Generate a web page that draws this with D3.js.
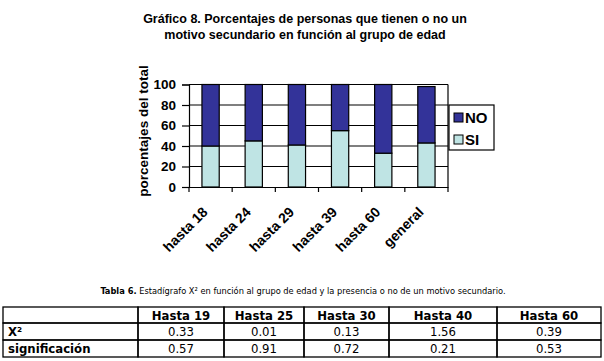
<!DOCTYPE html>
<html><head><meta charset="utf-8">
<script src="https://cdn.jsdelivr.net/npm/d3@7"></script>
<style>
html,body{margin:0;padding:0;background:#fff;}
svg{display:block;}
</style></head>
<body>
<svg id="c" width="604" height="361"></svg>
<script>
const categories = ["hasta 18","hasta 24","hasta 29","hasta 39","hasta 60","general"];
const siValues = [40, 45, 41, 55, 33, 43];
const noValues = [60, 55, 59, 45, 67, 55];
const yTicks = [0,20,40,60,80,100];
const seriesNames = ["NO","SI"];
const titleLines = ["Gráfico 8. Porcentajes de personas que tienen o no un","motivo secundario en función al grupo de edad"];
const yTitle = "porcentajes del total";
const tableCaptionBold = "Tabla 6.";
const tableCaption = " Estadígrafo X² en función al grupo de edad y la presencia o no de un motivo secundario.";
const tableHeader = ["", "Hasta 19","Hasta 25","Hasta 30","Hasta 40","Hasta 60"];
const chiRow = ["X²", "0.33","0.01","0.13","1.56","0.39"];
const sigRow = ["significación", "0.57","0.91","0.72","0.21","0.53"];

const svg = d3.select("#c");
const AR = "'Liberation Sans', Arial, sans-serif";
const TH = "'DejaVu Sans Condensed','DejaVu Sans', Tahoma, sans-serif";
const NOC = "#333399", SIC = "#bfe4e4";

// title
svg.append("text").attr("font-family",AR).attr("font-weight","bold").attr("font-size",12.5)
  .attr("text-anchor","middle").selectAll("tspan").data(titleLines).join("tspan")
  .attr("x",305).attr("y",(d,i)=>23+i*16).text(d=>d);

const x = d3.scaleBand().domain(categories).range([189,448]);
const y = d3.scaleLinear().domain([0,100]).range([187,84.5]);

// gridlines
svg.append("g").selectAll("line").data(yTicks.filter(d=>d>0)).join("line")
  .attr("x1",189).attr("x2",448).attr("y1",d=>y(d)).attr("y2",d=>y(d))
  .attr("stroke","#000").attr("stroke-width",1.2);
// right border
svg.append("line").attr("x1",448).attr("x2",448).attr("y1",y(100)).attr("y2",y(0)).attr("stroke","#000").attr("stroke-width",1.2);

// bars
const bw = x.bandwidth()*0.4;
const g = svg.append("g");
categories.forEach((c,i)=>{
  const cx = x(c)+x.bandwidth()/2;
  g.append("rect").attr("x",cx-bw/2).attr("width",bw)
   .attr("y",y(siValues[i])).attr("height",y(0)-y(siValues[i]))
   .attr("fill",SIC).attr("stroke","#000").attr("stroke-width",1.2);
  g.append("rect").attr("x",cx-bw/2).attr("width",bw)
   .attr("y",y(siValues[i]+noValues[i])).attr("height",y(siValues[i])-y(siValues[i]+noValues[i]))
   .attr("fill",NOC).attr("stroke","#000").attr("stroke-width",1.2);
});

// y axis
const ya = svg.append("g").attr("transform","translate(189,0)")
  .call(d3.axisLeft(y).tickValues(yTicks).tickSize(7).tickPadding(6));
ya.select(".domain").attr("stroke","#000").attr("stroke-width",1.2);
ya.selectAll(".tick line").attr("stroke","#000").attr("stroke-width",1.2);
ya.selectAll("text").attr("font-family",AR).attr("font-weight","bold").attr("font-size",13.5).attr("fill","#000");

// x axis
const xa = svg.append("g").attr("transform","translate(0,187)")
  .call(d3.axisBottom(x).tickSize(0).tickFormat(""));
xa.select(".domain").attr("stroke","#000").attr("stroke-width",1.2);
const bounds = categories.map(c=>x(c)).concat([448]);
xa.selectAll(".bt").data(bounds).join("line").attr("class","bt")
  .attr("x1",d=>d).attr("x2",d=>d).attr("y1",0).attr("y2",5).attr("stroke","#000").attr("stroke-width",1.2);
svg.append("g").selectAll("text").data(categories).join("text")
  .attr("transform",d=>`translate(${x(d)+x.bandwidth()/2-2},213) rotate(-45)`)
  .attr("text-anchor","end").attr("font-family",AR).attr("font-weight","bold").attr("font-size",14)
  .text(d=>d);

// y title
svg.append("text").attr("transform","translate(148,131) rotate(-90)").attr("text-anchor","middle")
  .attr("font-family",AR).attr("font-weight","bold").attr("font-size",13.5).text(yTitle);

// legend
const lg = svg.append("g");
lg.append("rect").attr("x",449).attr("y",105).attr("width",45).attr("height",45)
  .attr("fill","#fff").attr("stroke","#000").attr("stroke-width",1.2);
const legFill = {"NO":NOC,"SI":SIC};
seriesNames.forEach((s,i)=>{
  lg.append("rect").attr("x",454).attr("y",113+i*22).attr("width",9).attr("height",9)
    .attr("fill",legFill[s]).attr("stroke","#000").attr("stroke-width",1);
  lg.append("text").attr("x",465).attr("y",123+i*22).attr("font-family",AR).attr("font-weight","bold")
    .attr("font-size",15).text(s);
});

// caption
const cap = svg.append("text").attr("x",303).attr("y",294).attr("text-anchor","middle")
  .attr("font-family",TH).attr("font-size",9.2);
cap.append("tspan").attr("font-weight","bold").text(tableCaptionBold);
cap.append("tspan").text(tableCaption);

// table
const colX = [3,138,224,304,389,497,601];
const rowY = [307,323,340,357];
const rows = [tableHeader, chiRow, sigRow];
const tg = svg.append("g");
rows.forEach((r,ri)=>{
  r.forEach((v,ci)=>{
    tg.append("rect").attr("x",colX[ci]).attr("y",rowY[ri]).attr("width",colX[ci+1]-colX[ci]).attr("height",rowY[ri+1]-rowY[ri])
      .attr("fill","none").attr("stroke","#000").attr("stroke-width",1.3);
    const bold = ri===0 || ci===0;
    tg.append("text")
      .attr("x", ci===0 ? colX[0]+5 : (colX[ci]+colX[ci+1])/2)
      .attr("y", rowY[ri]+13)
      .attr("text-anchor", ci===0 ? "start" : "middle")
      .attr("font-family",TH).attr("font-size",13)
      .attr("font-weight", bold ? "bold" : "normal").text(v);
  });
});
</script>
</body></html>
